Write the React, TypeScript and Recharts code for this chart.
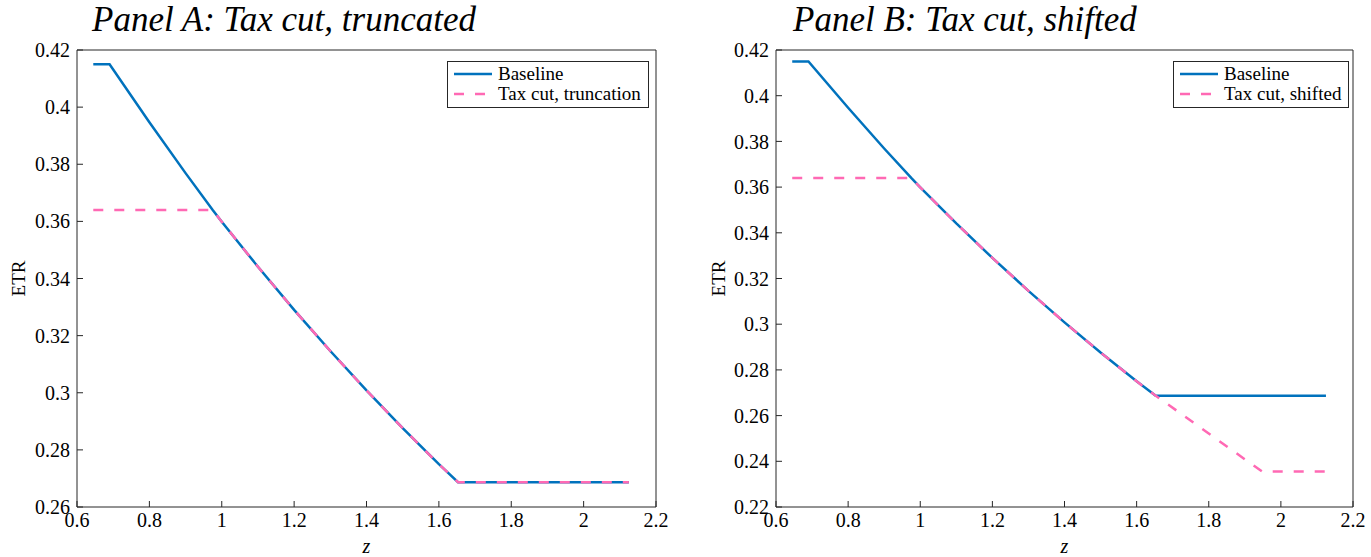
import { LineChart, Line, XAxis, YAxis, Legend, Label } from "recharts";

const FONT = '"Liberation Serif", "DejaVu Serif", serif';
const BLUE = "#0072BD";
const PINK = "#FF69B4";
const AXIS = "#262626";

// baseline effective tax rate schedule, shared by both panels
const baseZ = [0.645, 0.69, 0.8, 0.9, 0.975, 1.0, 1.1, 1.2, 1.3, 1.4, 1.5, 1.6, 1.653, 1.8, 2.0, 2.125];
const baseEtr = [0.415, 0.415, 0.3947, 0.3769, 0.364, 0.3599, 0.3441, 0.329, 0.3146, 0.3008, 0.2876, 0.275, 0.2687, 0.2687, 0.2687, 0.2687];

// tax cut, truncated: capped at the top, baseline elsewhere
const cutAZ = [0.645, 0.975, 1.0, 1.1, 1.2, 1.3, 1.4, 1.5, 1.6, 1.653, 2.125];
const cutAEtr = [0.364, 0.364, 0.3599, 0.3441, 0.329, 0.3146, 0.3008, 0.2876, 0.275, 0.2687, 0.2687];

// tax cut, shifted: capped at the top, lower floor at the bottom
const cutBZ = [0.645, 0.975, 1.0, 1.1, 1.2, 1.3, 1.4, 1.5, 1.6, 1.653, 1.948, 2.125];
const cutBEtr = [0.364, 0.364, 0.3599, 0.3441, 0.329, 0.3146, 0.3008, 0.2876, 0.275, 0.2687, 0.2355, 0.2355];

const xTicks = [0.6, 0.8, 1, 1.2, 1.4, 1.6, 1.8, 2, 2.2];
const yTicksA = [0.26, 0.28, 0.3, 0.32, 0.34, 0.36, 0.38, 0.4, 0.42];
const yTicksB = [0.22, 0.24, 0.26, 0.28, 0.3, 0.32, 0.34, 0.36, 0.38, 0.4, 0.42];

const toPoints = (z: number[], v: number[]) => z.map((x, i) => ({ z: x, etr: v[i] }));

const fmt = (v: number) => String(+v.toFixed(2));

const tickStyle = { fill: "#000", fontSize: 20, fontFamily: FONT };

const XTitle = (props: any) => {
  const vb = props.viewBox;
  return (
    <text
      x={vb.x + vb.width / 2}
      y={vb.y + 39}
      textAnchor="middle"
      dominantBaseline="central"
      fontFamily={FONT}
      fontStyle="italic"
      fontSize={20}
      fill="#000"
    >
      z
    </text>
  );
};

const YTitle = (props: any) => {
  const vb = props.viewBox;
  const cx = vb.x + 18;
  const cy = vb.y + vb.height / 2;
  return (
    <text
      x={cx}
      y={cy}
      transform={`rotate(-90 ${cx} ${cy})`}
      textAnchor="middle"
      dominantBaseline="central"
      fontFamily={FONT}
      fontSize={19}
      fill="#000"
    >
      ETR
    </text>
  );
};

const LegendBox = (props: any) => (
  <div
    style={{
      border: `1px solid ${AXIS}`,
      background: "#fff",
      padding: "2px 7px 3px 5px",
      fontFamily: FONT,
      fontSize: 19,
      color: "#000",
      lineHeight: "20px",
    }}
  >
    {(props.payload || []).map((e: any) => (
      <div key={e.value} style={{ display: "flex", alignItems: "center", height: 20 }}>
        <svg width={40} height={10} style={{ marginRight: 5, flex: "none" }}>
          <line
            x1={1}
            x2={39}
            y1={5}
            y2={5}
            stroke={e.color}
            strokeWidth={2.5}
            strokeDasharray={e.payload?.strokeDasharray}
          />
        </svg>
        <span style={{ whiteSpace: "nowrap" }}>{e.value}</span>
      </div>
    ))}
  </div>
);

interface PanelProps {
  title: string;
  titleLeft: number;
  left: number;
  width: number;
  marginRight: number;
  yAxisWidth: number;
  yTicks: number[];
  cut: { z: number; etr: number }[];
  cutName: string;
  legendLeft: number;
}

function Panel({ title, titleLeft, left, width, marginRight, yAxisWidth, yTicks, cut, cutName, legendLeft }: PanelProps) {
  const yDomain = [yTicks[0], yTicks[yTicks.length - 1]];
  return (
    <div style={{ position: "absolute", left, top: 0, width, height: 557 }}>
      <LineChart width={width} height={557} margin={{ top: 49, right: marginRight, bottom: 0, left: 0 }}>
        <XAxis
          xAxisId="b"
          type="number"
          dataKey="z"
          domain={[0.6, 2.2]}
          ticks={xTicks}
          interval={0}
          allowDataOverflow
          height={50}
          tickSize={-6}
          tickMargin={12}
          stroke={AXIS}
          tick={tickStyle}
          tickFormatter={fmt}
        >
          <Label content={XTitle} />
        </XAxis>
        {/* top and right axes close the box, ticks only */}
        <XAxis
          xAxisId="t"
          orientation="top"
          type="number"
          dataKey="z"
          domain={[0.6, 2.2]}
          ticks={xTicks}
          interval={0}
          allowDataOverflow
          height={1}
          tickSize={-6}
          stroke={AXIS}
          tick={false}
        />
        <YAxis
          yAxisId="l"
          type="number"
          domain={yDomain}
          ticks={yTicks}
          interval={0}
          allowDataOverflow
          width={yAxisWidth}
          tickSize={-6}
          tickMargin={13}
          stroke={AXIS}
          tick={tickStyle}
          tickFormatter={fmt}
        >
          <Label content={YTitle} />
        </YAxis>
        <YAxis
          yAxisId="r"
          orientation="right"
          type="number"
          domain={yDomain}
          ticks={yTicks}
          interval={0}
          allowDataOverflow
          width={1}
          tickSize={-6}
          stroke={AXIS}
          tick={false}
        />
        <Legend
          layout="vertical"
          align="center"
          verticalAlign="middle"
          content={LegendBox}
          wrapperStyle={{ left: legendLeft, top: 61, width: "auto", height: "auto" }}
        />
        <Line
          xAxisId="b"
          yAxisId="l"
          name="Baseline"
          data={toPoints(baseZ, baseEtr)}
          dataKey="etr"
          stroke={BLUE}
          strokeWidth={2.5}
          dot={false}
          activeDot={false}
          isAnimationActive={false}
        />
        <Line
          xAxisId="b"
          yAxisId="l"
          name={cutName}
          data={cut}
          dataKey="etr"
          stroke={PINK}
          strokeWidth={2.5}
          strokeDasharray="10 11"
          dot={false}
          activeDot={false}
          isAnimationActive={false}
        />
      </LineChart>
      <div
        style={{
          position: "absolute",
          left: titleLeft,
          top: 0,
          fontFamily: FONT,
          fontStyle: "italic",
          fontSize: 35,
          lineHeight: "40px",
          color: "#000",
          whiteSpace: "nowrap",
        }}
      >
        {title}
      </div>
    </div>
  );
}

export default function App() {
  return (
    <div style={{ position: "absolute", left: 0, top: 0, width: 1371, height: 557, background: "#fff" }}>
      <Panel
        title="Panel A: Tax cut, truncated"
        titleLeft={92}
        left={0}
        width={680}
        marginRight={23}
        yAxisWidth={77}
        yTicks={yTicksA}
        cut={toPoints(cutAZ, cutAEtr)}
        cutName="Tax cut, truncation"
        legendLeft={447}
      />
      <Panel
        title="Panel B: Tax cut, shifted"
        titleLeft={93}
        left={700}
        width={671}
        marginRight={17}
        yAxisWidth={76}
        yTicks={yTicksB}
        cut={toPoints(cutBZ, cutBEtr)}
        cutName="Tax cut, shifted"
        legendLeft={473}
      />
    </div>
  );
}
